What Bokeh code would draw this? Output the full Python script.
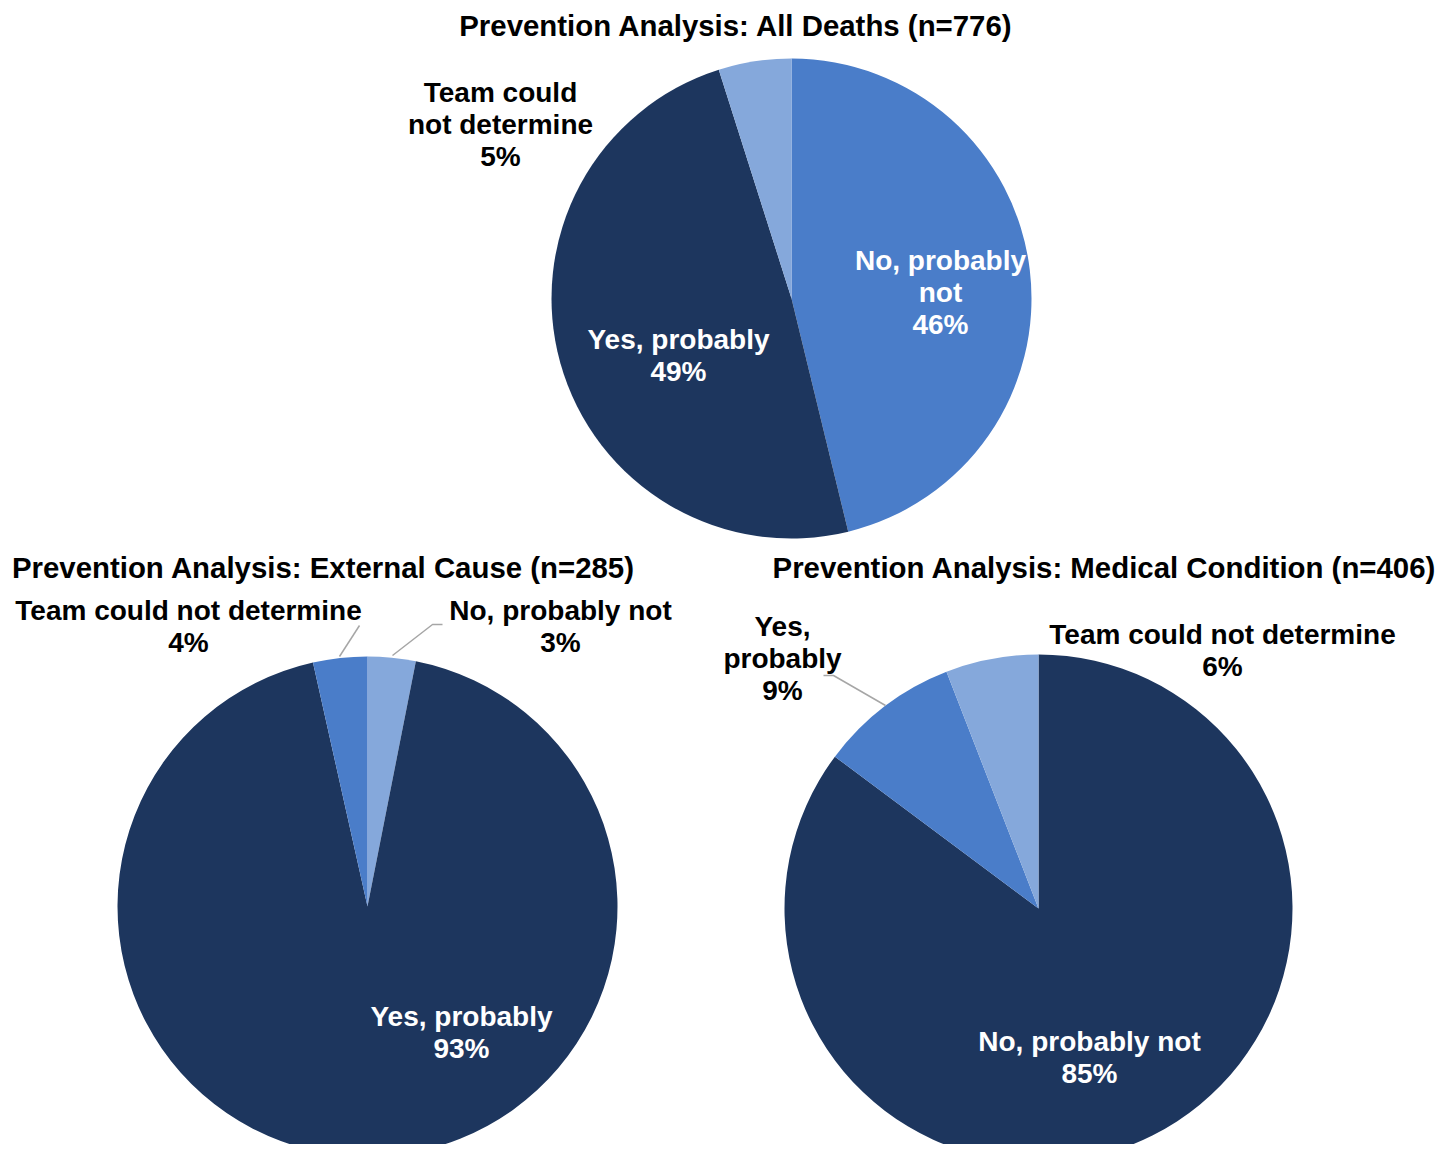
import math
from bokeh.plotting import figure
from bokeh.models import Range1d, ColumnDataSource
from bokeh.core.properties import value
from bokeh.embed import file_html
from bokeh.resources import INLINE

# ---------------- data ----------------
categories = ["No, probably not", "Yes, probably", "Team could not determine"]

all_deaths_title = "Prevention Analysis: All Deaths (n=776)"
all_deaths_values = [46.2, 48.9, 4.9]
all_deaths_pct = ["46%", "49%", "5%"]

external_title = "Prevention Analysis: External Cause (n=285)"
external_values = [3.1, 93.4, 3.5]
external_pct = ["3%", "93%", "4%"]

medical_title = "Prevention Analysis: Medical Condition (n=406)"
medical_values = [85.2, 8.9, 5.9]
medical_pct = ["85%", "9%", "6%"]

# ---------------- style / layout ----------------
DARK = "#1D365E"
MID = "#4A7DC9"
LIGHT = "#85A8DB"
LEADER = "#A6A6A6"
FONT = value("Liberation Sans")

W, H = 1437, 1144
IMG_H = 1152


def Y(y_img):
    return IMG_H - y_img


charts = [
    dict(title=all_deaths_title, values=all_deaths_values, pct=all_deaths_pct,
         cx=791, cy=298, r=240, title_xy=(736, 25),
         colors=[MID, DARK, LIGHT],
         wraps=["No, probably\nnot", "Yes, probably", "Team could\nnot determine"],
         label_xy=[(940, 292), (678, 355), (500, 124)],
         label_colors=["white", "white", "black"],
         leaders=[]),
    dict(title=external_title, values=external_values, pct=external_pct,
         cx=367, cy=906, r=250, title_xy=(323, 567),
         colors=[LIGHT, DARK, MID],
         wraps=["No, probably not", "Yes, probably", "Team could not determine"],
         label_xy=[(560, 626), (461, 1032), (188, 626)],
         label_colors=["black", "white", "black"],
         leaders=[[(442, 624), (432, 624), (392, 655)], [(359, 625), (339, 656)]]),
    dict(title=medical_title, values=medical_values, pct=medical_pct,
         cx=1038, cy=908, r=254, title_xy=(1104, 567),
         colors=[DARK, MID, LIGHT],
         wraps=["No, probably not", "Yes,\nprobably", "Team could not determine"],
         label_xy=[(1089, 1057), (782, 658), (1222, 650)],
         label_colors=["white", "black", "black"],
         leaders=[[(823, 675), (833, 675), (885, 705)]]),
]

p = figure(width=W, height=H, output_backend="svg", toolbar_location=None,
           x_range=Range1d(0, W), y_range=Range1d(IMG_H - H, IMG_H),
           x_axis_location=None, y_axis_location=None, min_border=0)
p.grid.visible = False
p.outline_line_color = None
p.background_fill_color = "white"
p.border_fill_color = "white"

for c in charts:
    total = sum(c["values"])
    starts, ends = [], []
    cum = 0.0
    for v in c["values"]:
        a0 = cum / total
        cum += v
        a1 = cum / total
        # clockwise from 12 o'clock
        starts.append(math.pi / 2 - 2 * math.pi * a1)
        ends.append(math.pi / 2 - 2 * math.pi * a0)
    src = ColumnDataSource(dict(
        x=[c["cx"]] * len(c["values"]), y=[Y(c["cy"])] * len(c["values"]),
        start=starts, end=ends, color=c["colors"], cat=categories))
    p.wedge(x="x", y="y", radius=c["r"], start_angle="start", end_angle="end",
            direction="anticlock", fill_color="color", line_color=None, source=src)

    for pts in c["leaders"]:
        p.line([q[0] for q in pts], [Y(q[1]) for q in pts], line_color=LEADER, line_width=1.5)

    texts = [w + "\n" + pc for w, pc in zip(c["wraps"], c["pct"])]
    lsrc = ColumnDataSource(dict(
        x=[q[0] for q in c["label_xy"]], y=[Y(q[1]) for q in c["label_xy"]],
        text=texts, color=c["label_colors"]))
    p.text(x="x", y="y", text="text", source=lsrc, text_color="color",
           text_font=FONT, text_font_style="bold", text_font_size="28px",
           text_align="center", text_baseline="middle", text_line_height=1.02)

    p.text(x=[c["title_xy"][0]], y=[Y(c["title_xy"][1])], text=[c["title"]],
           text_color="black", text_font=FONT, text_font_style="bold",
           text_font_size="29.4px", text_align="center", text_baseline="middle")

open("out.html", "w").write(file_html(p, INLINE))
